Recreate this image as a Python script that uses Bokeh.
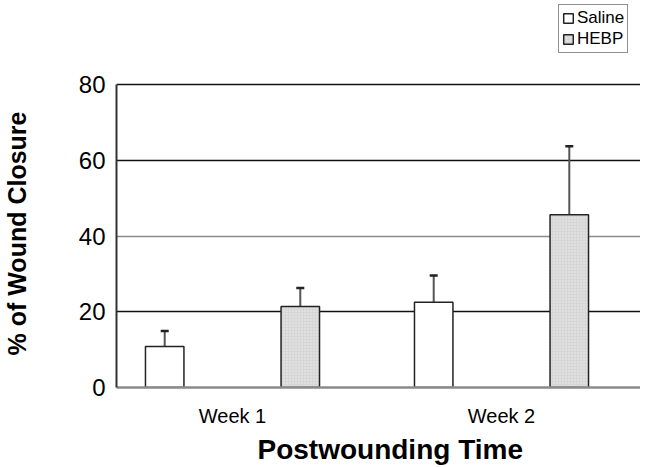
from bokeh.plotting import figure
from bokeh.models import (ColumnDataSource, FixedTicker, Range1d, Grid, Whisker, TeeHead,
                          Legend, LegendItem, Title)
from bokeh.embed import file_html
from bokeh.resources import INLINE

categories = ["Week 1", "Week 2"]
cat_pos = [1, 2]
saline_mean = [10.8, 22.5]
saline_sd = [4.1, 7.1]
hebp_mean = [21.4, 45.6]
hebp_sd = [4.9, 18.1]
series_offset = [-0.252, 0.252]
y_ticks = [0, 20, 40, 60, 80]

FONT = "Liberation Sans"

p = figure(width=640, height=467, output_backend="svg", toolbar_location=None,
           x_range=Range1d(0.5688, 2.5167), y_range=Range1d(0, 102.18),
           min_border_left=116, min_border_right=0, min_border_top=0,
           min_border_bottom=80)
p.outline_line_color = None
p.background_fill_color = "white"
p.xgrid.visible = False
p.ygrid.visible = False

bw = 0.143
sal_x = [c + series_offset[0] for c in cat_pos]
heb_x = [c + series_offset[1] for c in cat_pos]
src_s = ColumnDataSource(dict(x=sal_x, top=saline_mean,
                              up=[m + s for m, s in zip(saline_mean, saline_sd)]))
src_h = ColumnDataSource(dict(x=heb_x, top=hebp_mean,
                              up=[m + s for m, s in zip(hebp_mean, hebp_sd)]))

# grid lines
g_black = Grid(dimension=1, ticker=FixedTicker(ticks=[20, 60, 80]),
               grid_line_color="#111111", grid_line_width=1.5)
g_gray = Grid(dimension=1, ticker=FixedTicker(ticks=[40]),
              grid_line_color="#8a8a8a", grid_line_width=1.5)
p.add_layout(g_black)
p.add_layout(g_gray)

r_s = p.vbar(x="x", top="top", width=bw, bottom=0, source=src_s,
             fill_color="white", line_color="#222222", line_width=1.5)
r_h = p.vbar(x="x", top="top", width=bw, bottom=0, source=src_h,
             fill_color="#d6d6d6", line_color="#222222", line_width=1.5,
             hatch_pattern="dot", hatch_color="#f0f0f0", hatch_scale=3, hatch_weight=1)

for src in (src_s, src_h):
    w = Whisker(base="x", lower="top", upper="up", source=src,
                line_color="#555555", line_width=2,
                upper_head=TeeHead(size=8, line_color="#222222", line_width=2.5),
                lower_head=None)
    p.add_layout(w)

# axes
p.yaxis.ticker = FixedTicker(ticks=y_ticks)
p.yaxis.bounds = (0, 80)
p.yaxis.major_tick_line_color = None
p.yaxis.minor_tick_line_color = None
p.yaxis.axis_line_color = "#333333"
p.yaxis.axis_line_width = 2
p.yaxis.major_label_text_font = FONT
p.yaxis.major_label_text_font_size = "24px"
p.yaxis.major_label_text_color = "black"
p.yaxis.major_label_standoff = 5

# spacer between tick labels and the rotated axis title
spacer = Title(text=" ", text_font_size="1px", standoff=40)
p.add_layout(spacer, "left")
yt = Title(text="% of Wound Closure", text_font=FONT, text_font_style="bold",
           text_font_size="25px", text_color="black", align="left", offset=32,
           vertical_align="top", standoff=0)
p.add_layout(yt, "left")

p.xaxis.ticker = FixedTicker(ticks=cat_pos)
p.xaxis.major_label_overrides = {c: l for c, l in zip(cat_pos, categories)}
p.xaxis.major_tick_line_color = None
p.xaxis.minor_tick_line_color = None
p.xaxis.axis_line_color = "#8a8a8a"
p.xaxis.axis_line_width = 2.5
p.xaxis.major_label_text_font = FONT
p.xaxis.major_label_text_font_size = "20px"
p.xaxis.major_label_text_color = "black"
p.xaxis.major_label_standoff = 11

xt = Title(text="Postwounding Time", text_font=FONT, text_font_style="bold",
           text_font_size="28px", text_color="black", align="left", offset=141,
           standoff=4)
p.add_layout(xt, "below")

legend = Legend(items=[LegendItem(label="Saline", renderers=[r_s]),
                       LegendItem(label="HEBP", renderers=[r_h])],
                location=(442, 334), orientation="vertical",
                label_text_font=FONT, label_text_font_size="17px",
                label_text_color="black", border_line_color="#222222",
                border_line_width=1, glyph_width=12, glyph_height=12,
                label_standoff=3, padding=3, spacing=1, margin=0,
                label_height=18, background_fill_alpha=1)
p.add_layout(legend, "center")

open("out.html", "w").write(file_html(p, INLINE))
